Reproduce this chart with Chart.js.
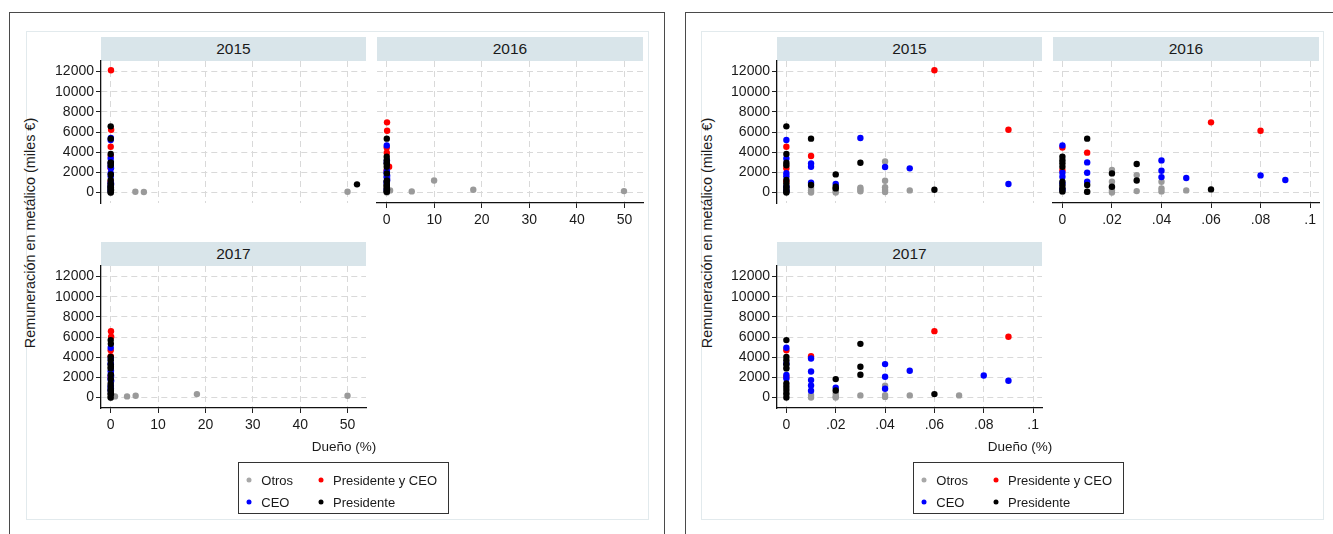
<!DOCTYPE html>
<html lang="es">
<head>
<meta charset="utf-8">
<title>Remuneración en metálico según propiedad</title>
<script src="https://cdn.jsdelivr.net/npm/chart.js@4.4.1/dist/chart.umd.min.js"></script>
<style>
  html, body { margin: 0; padding: 0; background: #fff; }
  body {
    width: 1333px; height: 534px; position: relative; overflow: hidden;
    font-family: "Liberation Sans", Arial, sans-serif; color: #1a1a1a;
  }
  .frame { position: absolute; border: 1.5px solid #4a4a4a; box-sizing: border-box; }
  .inner { position: absolute; border: 1px solid #e2eaed; box-sizing: border-box; }
  .strip {
    position: absolute; background: #d9e5ea; font-size: 15.5px;
    line-height: 23px; text-align: center; color: #1a1a1a;
  }
  .ytitle {
    position: absolute; font-size: 14.4px; white-space: nowrap; line-height: 1;
    transform: translate(-50%, -50%) rotate(-90deg);
  }
  .xtitle {
    position: absolute; font-size: 13.5px; white-space: nowrap; line-height: 1;
    transform: translate(-50%, -50%);
  }
  .legend {
    position: absolute; border: 1px solid #333; background: #fff;
    box-sizing: border-box; font-size: 13px;
  }
  .legend .item { position: absolute; white-space: nowrap; line-height: 1; transform: translateY(-50%); }
  .legend .dot {
    position: absolute; width: 5px; height: 5px; border-radius: 50%;
    transform: translate(-50%, -50%);
  }
  .panel { position: absolute; }
</style>
</head>
<body>
<script>
// ---------------------------------------------------------------
// Data: [ownership %, cash remuneration (thousand €)] per group and year
// ---------------------------------------------------------------
const otros2015 = [[0,60],[0,250],[0,500],[0.01,0],[0.01,200],[0.01,450],[0.02,0],[0.02,150],[0.02,350],
  [0.03,120],[0.03,300],[0.03,480],[0.04,40],[0.04,250],[0.04,520],[0.04,1160],[0.04,3080],[0.05,200],
  [5.2,70],[7.0,40],[50,70]];
const presCeo2015 = [[0,4540],[0,2400],[0,1100],[0.01,3610],[0.06,12130],[0.09,6230]];
const ceo2015 = [[0,5200],[0,3380],[0,1900],[0,1600],[0,600],[0,200],[0.01,2880],[0.01,2550],[0.01,960],
  [0.02,830],[0.03,5400],[0.04,2520],[0.05,2390],[0.09,830]];
const pres2015 = [[0,6560],[0,3810],[0,2950],[0,2700],[0,1230],[0,900],[0,600],[0,350],[0,100],[0,0],
  [0.01,5340],[0.01,730],[0.02,1790],[0.02,560],[0.02,400],[0.03,2950],[0.06,265],[52,800]];

const otros2016 = [[0,100],[0,300],[0.01,50],[0.02,0],[0.02,200],[0.02,500],[0.02,1060],[0.02,2220],
  [0.03,130],[0.03,1720],[0.04,100],[0.04,400],[0.04,1060],[0.05,200],
  [0.7,200],[5.26,100],[9.96,1190],[18.2,260],[49.9,130]];
const presCeo2016 = [[0,4450],[0,2200],[0.01,3950],[0.06,6960],[0.08,6130],[0.5,2550]];
const ceo2016 = [[0,4670],[0,1950],[0,1560],[0,900],[0,300],[0.01,2980],[0.01,1960],[0.01,1060],
  [0.04,3180],[0.04,2150],[0.04,1520],[0.05,1430],[0.08,1690],[0.09,1230]];
const pres2016 = [[0,3550],[0,3200],[0,2900],[0,2550],[0,1060],[0,700],[0,400],[0,100],
  [0.01,5340],[0.01,730],[0.01,70],[0.02,1890],[0.02,560],[0.03,2820],[0.03,1190],[0.06,300]];

const otros2017 = [[0,3000],[0,300],[0.01,0],[0.01,230],[0.02,0],[0.02,100],[0.02,400],[0.03,200],
  [0.04,50],[0.04,230],[0.04,1160],[0.05,200],[0.07,200],
  [0.9,100],[3.45,100],[5.27,165],[18.2,330],[50,165]];
const presCeo2017 = [[0,4690],[0,2050],[0.01,4100],[0.06,6580],[0.09,6020]];
const ceo2017 = [[0,4930],[0,3370],[0,2220],[0,1880],[0.01,3870],[0.01,2580],[0.01,1720],[0.01,1190],
  [0.01,660],[0.02,960],[0.04,3310],[0.04,2050],[0.04,860],[0.05,2650],[0.08,2180],[0.09,1650]];
const pres2017 = [[0,5690],[0,4030],[0,3700],[0,3300],[0,2880],[0,1390],[0,1060],[0,730],[0,400],[0,0],
  [0.02,1820],[0.02,690],[0.03,5320],[0.03,3040],[0.03,2250],[0.06,330]];

// Axis ticks
const yTickValues = [0, 2000, 4000, 6000, 8000, 10000, 12000];
const yTickLabels = ['0', '2000', '4000', '6000', '8000', '10000', '12000'];
const xTickValuesFull = [0, 10, 20, 30, 40, 50];
const xTickLabelsFull = ['0', '10', '20', '30', '40', '50'];
const xTickValuesZoom = [0, 0.02, 0.04, 0.06, 0.08, 0.1];
const xTickLabelsZoom = ['0', '.02', '.04', '.06', '.08', '.1'];

const years = [2015, 2016, 2017];
const groupLabels = ['Otros', 'Presidente y CEO', 'CEO', 'Presidente'];
const groupColors = ['#9a9a9a', '#ff0000', '#0000ff', '#000000'];
const dataByYear = {
  2015: [otros2015, presCeo2015, ceo2015, pres2015],
  2016: [otros2016, presCeo2016, ceo2016, pres2016],
  2017: [otros2017, presCeo2017, ceo2017, pres2017]
};

// ---------------------------------------------------------------
// Layout helpers
// ---------------------------------------------------------------
const FONT = '"Liberation Sans", Arial, sans-serif';
Chart.defaults.font.family = FONT;
Chart.defaults.color = '#1a1a1a';

function el(cls, css, text) {
  const d = document.createElement('div');
  d.className = cls;
  Object.assign(d.style, css);
  if (text !== undefined) d.textContent = text;
  document.body.appendChild(d);
  return d;
}

const Y_MIN = -1050, Y_MAX = 13050;
const AXW = 60, AXH = 40, PT = 12, PR = 12;

function drawPanel(p) {
  const w = p.w + AXW + PR, h = p.h + PT + AXH;
  const wrap = el('panel', { left: (p.x - AXW) + 'px', top: (p.y - PT) + 'px', width: w + 'px', height: h + 'px' });
  const cv = document.createElement('canvas');
  cv.width = w; cv.height = h;
  wrap.appendChild(cv);

  const series = dataByYear[p.year];
  const datasets = series.map((pts, i) => ({
    label: groupLabels[i],
    data: pts.filter(d => d[0] <= p.xLimit).map(d => ({ x: d[0], y: d[1] })),
    backgroundColor: groupColors[i],
    borderColor: groupColors[i],
    borderWidth: 0,
    pointRadius: 3.2,
    pointHoverRadius: 3.2,
    order: series.length - i
  }));

  new Chart(cv, {
    type: 'scatter',
    data: { datasets },
    options: {
      responsive: false,
      animation: false,
      devicePixelRatio: 1,
      layout: { padding: { top: PT, right: PR, left: 0, bottom: 0 } },
      plugins: { legend: { display: false }, tooltip: { enabled: false } },
      scales: {
        x: {
          type: 'linear', position: 'bottom', min: p.xMin, max: p.xMax,
          afterBuildTicks: s => { s.ticks = p.xTicks.map(v => ({ value: v })); },
          afterFit: s => { s.height = AXH; },
          ticks: {
            display: p.showX, autoSkip: false, maxRotation: 0, minRotation: 0, padding: 4,
            font: { size: 14 }, color: '#1a1a1a',
            callback: (v, i) => p.xLabels[i]
          },
          grid: { color: '#d9d9d9', lineWidth: 1, drawTicks: p.showX, tickLength: 5, tickColor: '#222', tickWidth: 1 },
          border: { display: p.showX, color: '#111', width: 1.3, dash: [6, 4] }
        },
        y: {
          type: 'linear', position: 'left', min: Y_MIN, max: Y_MAX,
          afterBuildTicks: s => { s.ticks = yTickValues.map(v => ({ value: v })); },
          afterFit: s => { s.width = AXW; },
          ticks: {
            display: p.showY, autoSkip: false, padding: 2,
            font: { size: 14 }, color: '#1a1a1a',
            callback: (v, i) => yTickLabels[i]
          },
          grid: { color: '#d9d9d9', lineWidth: 1, drawTicks: p.showY, tickLength: 5, tickColor: '#222', tickWidth: 1 },
          border: { display: p.showY, color: '#111', width: 1.3, dash: [6, 4] }
        }
      }
    }
  });
}

function drawFigure(f) {
  // outer frame and inner graph region
  el('frame', { left: f.frameX + 'px', top: '12px', width: f.frameW + 'px', height: '560px' });
  el('inner', { left: f.innerX + 'px', top: '31px', width: f.innerW + 'px', height: '489px' });

  const cells = [
    { year: 2015, x: f.col1, y: 61, w: 265, h: 142, showX: false, showY: true },
    { year: 2016, x: f.col2, y: 61, w: 266, h: 142, showX: true, showY: false },
    { year: 2017, x: f.col1, y: 266, w: 265, h: 142, showX: true, showY: true }
  ];
  cells.forEach(c => {
    el('strip', { left: c.x + 'px', top: (c.y - 24) + 'px', width: c.w + 'px', height: '24px' }, String(c.year));
    drawPanel(Object.assign({}, c, {
      xMin: f.xMin, xMax: f.xMax, xTicks: f.xTicks, xLabels: f.xLabels, xLimit: f.xLimit
    }));
  });

  el('ytitle', { left: f.yTitleX + 'px', top: '233px' }, 'Remuneración en metálico (miles €)');
  el('xtitle', { left: f.xTitleX + 'px', top: '447px' }, 'Dueño (%)');

  const lg = el('legend', { left: f.legendX + 'px', top: '462px', width: '211px', height: '52px' });
  const slots = [[10, 16.5, 22.3], [82, 16.5, 94], [10, 39, 22.3], [82, 39, 94]];
  const legendOrder = [0, 1, 2, 3];
  legendOrder.forEach((gi, k) => {
    const [dx, dy, tx] = slots[k];
    const dot = document.createElement('div');
    dot.className = 'dot';
    Object.assign(dot.style, { left: dx + 'px', top: dy + 'px', background: gi === 0 ? '#a8a8a8' : groupColors[gi] });
    lg.appendChild(dot);
    const t = document.createElement('div');
    t.className = 'item';
    Object.assign(t.style, { left: tx + 'px', top: dy + 'px' });
    t.textContent = groupLabels[gi];
    lg.appendChild(t);
  });
}

// Full ownership range (0–50 %)
drawFigure({
  frameX: 9, frameW: 656, innerX: 26, innerW: 623,
  col1: 101, col2: 377,
  xMin: -2.05, xMax: 53.9, xTicks: xTickValuesFull, xLabels: xTickLabelsFull, xLimit: Infinity,
  yTitleX: 30, xTitleX: 344, legendX: 238
});

// Ownership up to 0.1 %
drawFigure({
  frameX: 685, frameW: 700, innerX: 701, innerW: 623,
  col1: 777, col2: 1053,
  xMin: -0.0038, xMax: 0.1036, xTicks: xTickValuesZoom, xLabels: xTickLabelsZoom, xLimit: 0.1,
  yTitleX: 707, xTitleX: 1020, legendX: 913
});
</script>
</body>
</html>
